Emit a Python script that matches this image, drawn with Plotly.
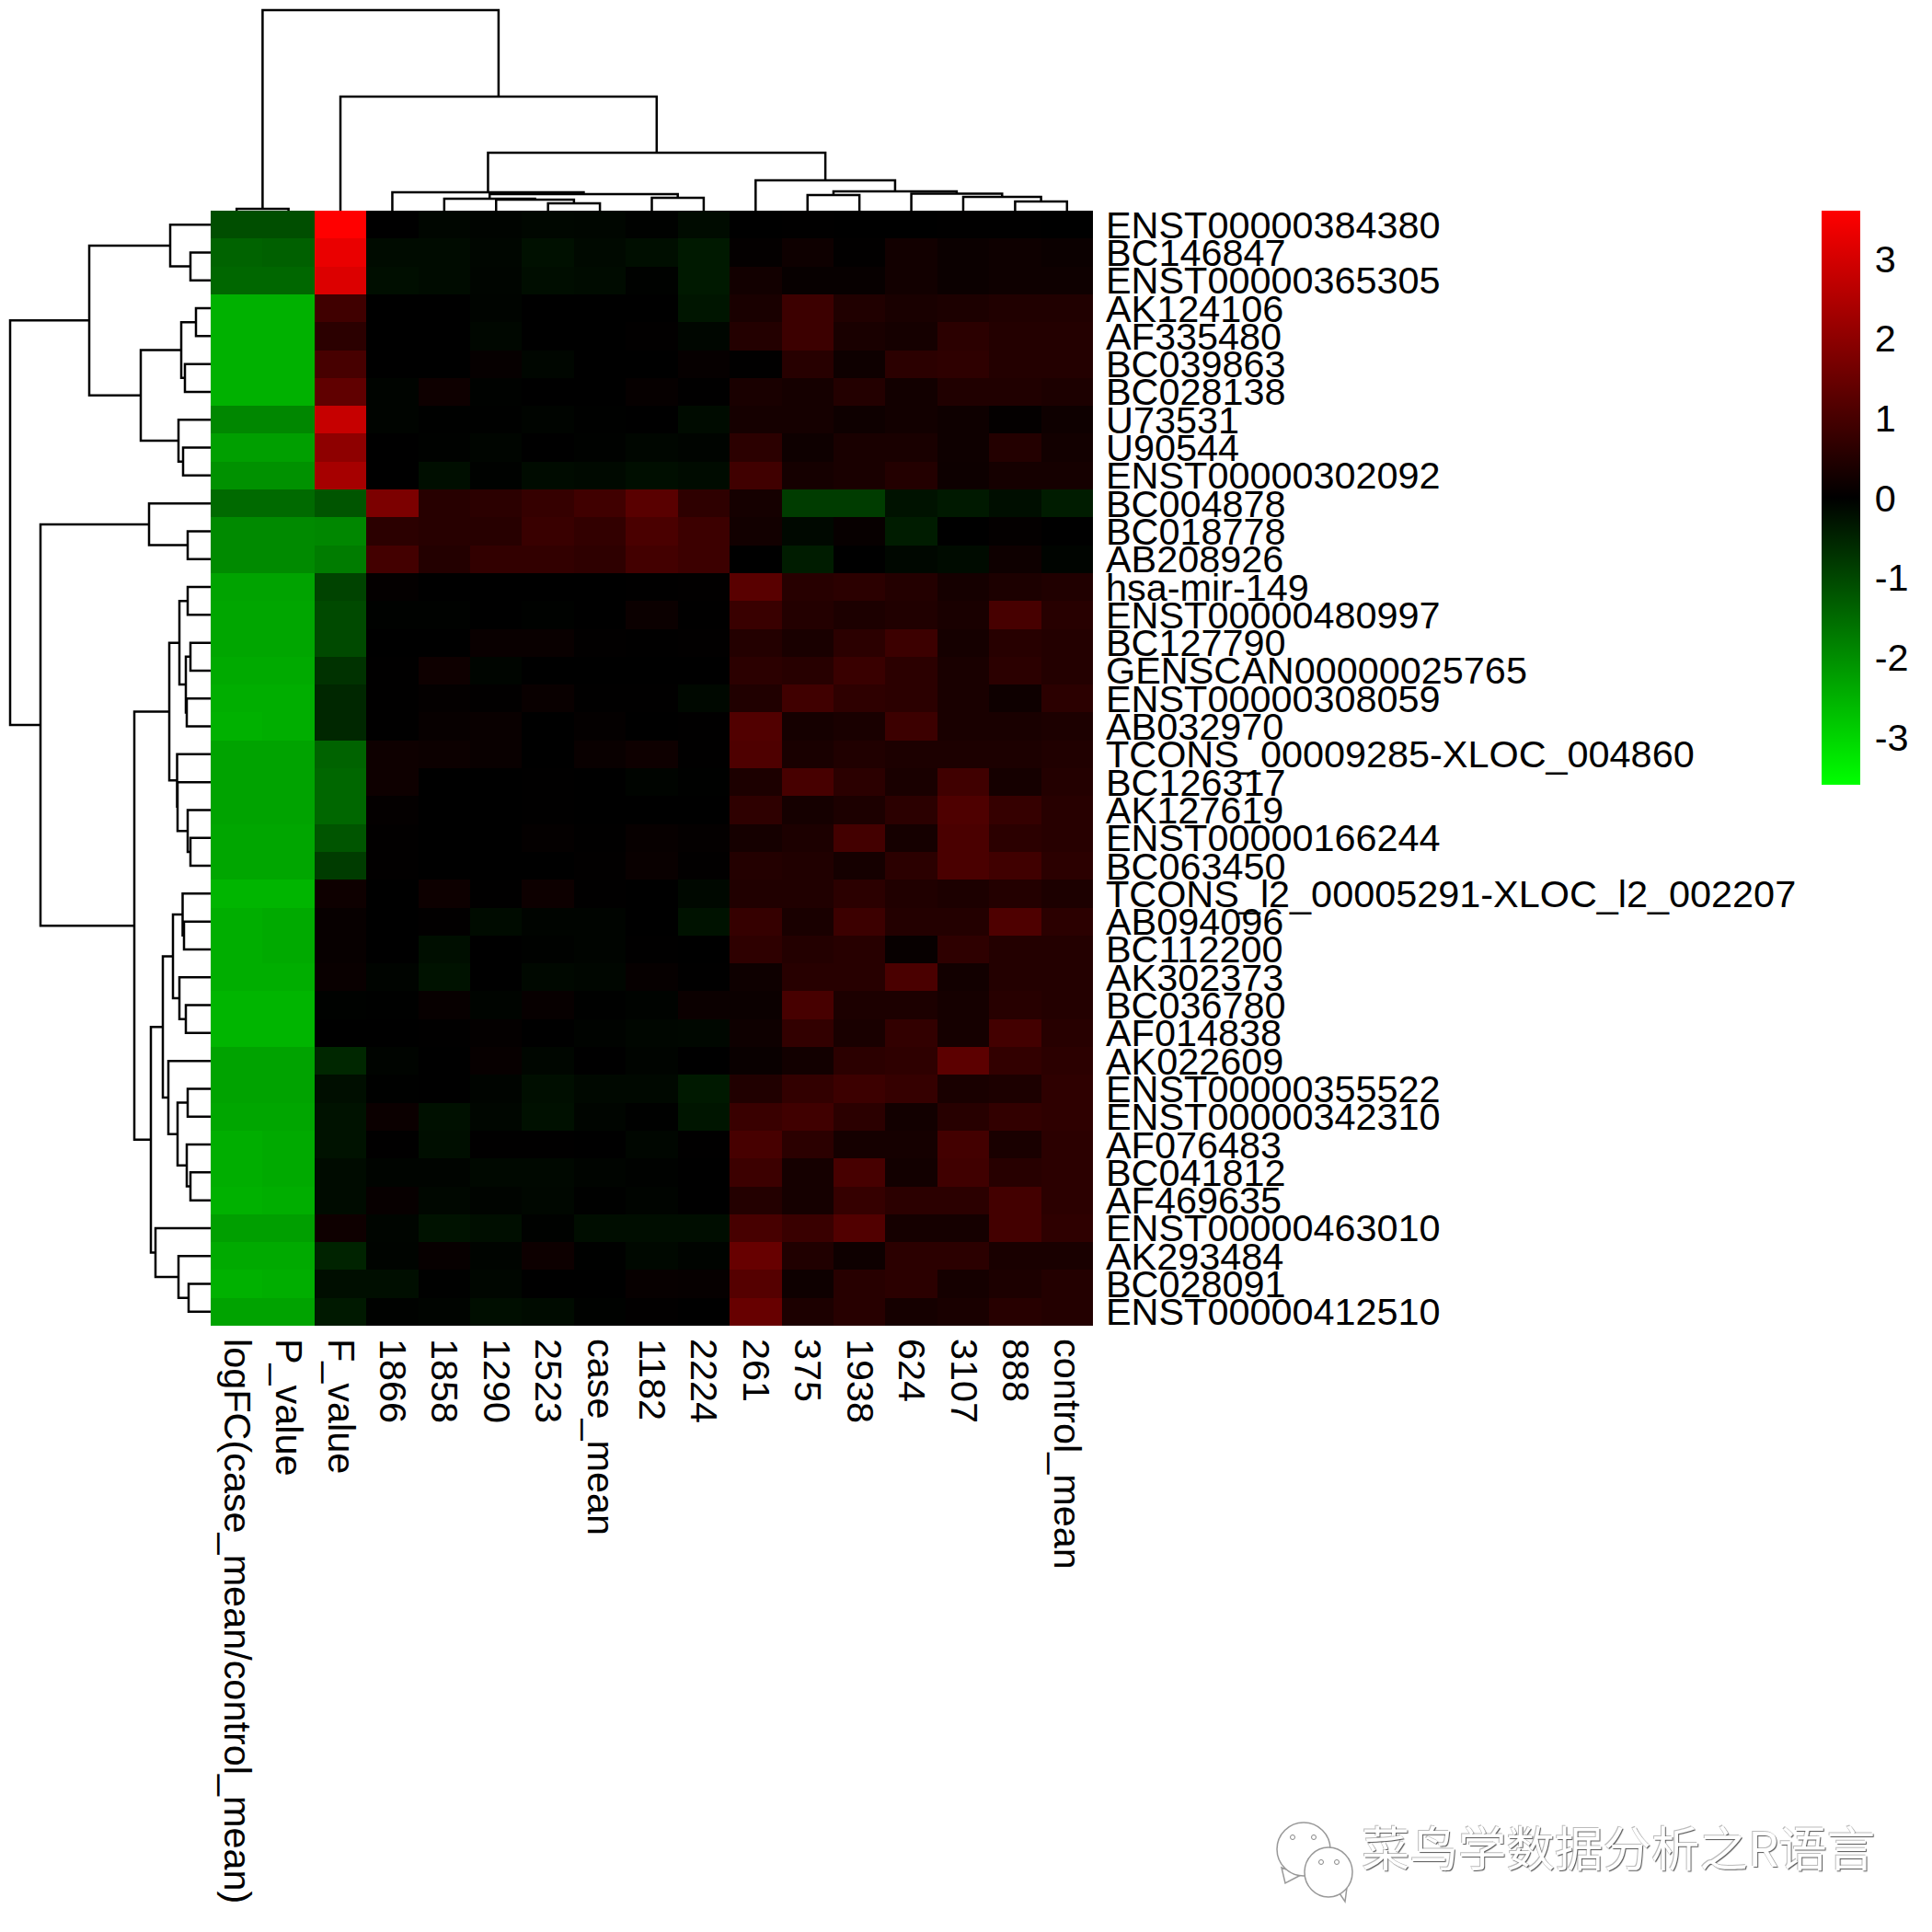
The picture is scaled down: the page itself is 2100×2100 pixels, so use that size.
import plotly.graph_objects as go

col_labels = ["logFC(case_mean/control_mean)", "P_value", "F_value", "1866", "1858", "1290", "2523", "case_mean",
              "1182", "2224", "261", "375", "1938", "624", "3107", "888", "control_mean"]
row_labels = ["ENST00000384380", "BC146847", "ENST00000365305", "AK124106", "AF335480", "BC039863", "BC028138",
              "U73531", "U90544", "ENST00000302092", "BC004878", "BC018778", "AB208926", "hsa-mir-149",
              "ENST00000480997", "BC127790", "GENSCAN00000025765", "ENST00000308059", "AB032970",
              "TCONS_00009285-XLOC_004860", "BC126317", "AK127619", "ENST00000166244", "BC063450",
              "TCONS_l2_00005291-XLOC_l2_002207", "AB094096", "BC112200", "AK302373", "BC036780", "AF014838",
              "AK022609", "ENST00000355522", "ENST00000342310", "AF076483", "BC041812", "AF469635",
              "ENST00000463010", "AK293484", "BC028091", "ENST00000412510"]

r00 = [-1.1, -1.1, 3.6, 0, -0.08, -0.05, -0.1, -0.08, -0.03, -0.15, 0, 0.02, 0, 0, 0.02, 0.02, 0]
r01 = [-1.4, -1.35, 3.3, -0.15, -0.15, -0.08, -0.22, -0.13, -0.2, -0.35, 0.05, 0.2, 0.03, 0.25, 0.15, 0.2, 0.15]
r02 = [-1.45, -1.45, 3.1, -0.2, -0.15, -0.07, -0.18, -0.16, -0.03, -0.35, 0.25, 0.1, 0.1, 0.25, 0.15, 0.2, 0.2]
r03 = [-2.5, -2.5, 0.9, 0, 0, -0.05, 0, 0, 0, -0.3, 0.35, 0.85, 0.45, 0.35, 0.4, 0.45, 0.45]
r04 = [-2.5, -2.5, 0.6, 0, 0, -0.1, 0, 0, 0.03, -0.08, 0.5, 0.85, 0.35, 0.3, 0.6, 0.5, 0.5]
r05 = [-2.5, -2.5, 1.0, 0, 0, 0.08, -0.08, 0, 0, 0.08, 0.02, 0.55, 0.2, 0.6, 0.65, 0.5, 0.5]
r06 = [-2.5, -2.5, 1.35, -0.05, 0.2, -0.03, 0, 0, 0.08, 0.02, 0.35, 0.3, 0.5, 0.25, 0.45, 0.45, 0.4]
r07 = [-1.9, -1.9, 2.8, -0.05, -0.02, -0.02, -0.06, -0.02, 0, -0.15, 0.3, 0.3, 0.2, 0.25, 0.2, 0.05, 0.2]
r08 = [-2.25, -2.25, 2.0, 0, -0.03, -0.07, 0, -0.03, -0.08, -0.05, 0.6, 0.2, 0.35, 0.35, 0.2, 0.5, 0.25]
r09 = [-2.05, -2.05, 2.35, 0, -0.2, -0.03, -0.15, -0.13, -0.2, -0.15, 0.9, 0.3, 0.35, 0.5, 0.18, 0.3, 0.3]
r10 = [-1.5, -1.5, -1.2, 1.75, 0.55, 0.6, 0.75, 0.9, 1.25, 0.65, 0.3, -0.85, -0.85, -0.25, -0.35, -0.2, -0.4]
r11 = [-1.95, -1.95, -1.9, 0.6, 0.55, 0.55, 0.8, 0.7, 1.05, 0.85, 0.25, -0.12, 0.1, -0.4, 0, 0.05, 0]
r12 = [-1.95, -1.95, -1.75, 0.95, 0.5, 0.7, 0.7, 0.65, 0.95, 0.85, 0, -0.4, 0, -0.1, -0.15, 0.2, -0.05]
r13 = [-2.3, -2.3, -0.95, 0.05, 0, 0, 0, 0, 0.02, 0.03, 1.25, 0.55, 0.6, 0.5, 0.3, 0.4, 0.45]
r14 = [-2.35, -2.35, -1.05, -0.03, -0.03, 0, -0.03, 0, 0.15, 0.02, 0.8, 0.5, 0.4, 0.45, 0.35, 1.0, 0.55]
r15 = [-2.35, -2.35, -1.05, 0, 0, 0.12, 0.13, 0.03, 0.02, 0.03, 0.5, 0.35, 0.6, 0.85, 0.3, 0.55, 0.5]
r16 = [-2.4, -2.4, -0.7, 0.02, 0.2, -0.07, 0, 0, 0, 0, 0.6, 0.55, 0.8, 0.6, 0.35, 0.6, 0.5]
r17 = [-2.45, -2.45, -0.55, 0.02, 0.05, 0.03, 0.12, 0.02, 0.02, -0.12, 0.45, 0.9, 0.65, 0.6, 0.35, 0.2, 0.6]
r18 = [-2.5, -2.45, -0.55, 0.02, 0.1, 0.12, 0, 0.06, 0, 0.02, 1.15, 0.3, 0.35, 0.85, 0.35, 0.35, 0.4]
r19 = [-2.3, -2.3, -1.4, 0.2, 0.17, 0.12, 0, 0.12, 0.2, 0.02, 1.1, 0.35, 0.45, 0.4, 0.4, 0.4, 0.45]
r20 = [-2.3, -2.3, -1.45, 0.2, 0, 0, 0.02, 0, -0.05, -0.02, 0.4, 1.0, 0.6, 0.35, 0.9, 0.3, 0.5]
r21 = [-2.3, -2.3, -1.45, 0.05, 0, 0, 0.02, 0, 0, 0, 0.65, 0.3, 0.4, 0.6, 1.1, 0.75, 0.55]
r22 = [-2.35, -2.35, -1.2, 0.03, 0, 0, 0.05, 0.02, 0.1, 0.05, 0.3, 0.4, 0.95, 0.3, 1.05, 0.6, 0.55]
r23 = [-2.35, -2.35, -0.85, 0.03, 0, 0, 0, 0.03, 0.12, 0.03, 0.5, 0.45, 0.3, 0.6, 1.05, 0.9, 0.6]
r24 = [-2.55, -2.55, 0.2, 0, 0.18, 0.02, 0.18, 0.01, 0, -0.12, 0.45, 0.45, 0.6, 0.45, 0.4, 0.5, 0.4]
r25 = [-2.45, -2.4, 0.1, 0, 0.03, -0.15, -0.05, -0.05, 0, -0.25, 0.75, 0.35, 0.85, 0.5, 0.5, 1.1, 0.6]
r26 = [-2.45, -2.4, 0.1, 0, -0.2, 0, -0.03, -0.05, 0.02, 0, 0.65, 0.5, 0.55, 0.1, 0.65, 0.5, 0.5]
r27 = [-2.45, -2.45, 0.12, -0.05, -0.25, 0, -0.12, -0.08, 0.08, 0.02, 0.2, 0.55, 0.55, 1.05, 0.25, 0.5, 0.5]
r28 = [-2.55, -2.55, -0.03, -0.01, 0.1, -0.06, 0.1, -0.02, -0.04, 0.15, 0.15, 1.0, 0.4, 0.4, 0.3, 0.55, 0.5]
r29 = [-2.55, -2.55, 0, 0, 0.01, 0.05, 0, -0.04, -0.08, -0.1, 0.2, 0.7, 0.35, 0.7, 0.3, 0.95, 0.55]
r30 = [-2.3, -2.3, -0.55, -0.05, 0, 0.1, -0.08, 0, -0.05, 0, 0.12, 0.25, 0.6, 0.65, 1.3, 0.7, 0.6]
r31 = [-2.3, -2.3, -0.2, -0.01, 0, -0.06, -0.2, -0.12, -0.12, -0.35, 0.45, 0.7, 0.85, 0.75, 0.35, 0.4, 0.65]
r32 = [-2.35, -2.35, -0.25, 0.15, -0.22, -0.08, -0.22, -0.07, -0.01, -0.3, 0.8, 0.9, 0.6, 0.25, 0.55, 0.7, 0.65]
r33 = [-2.45, -2.4, -0.25, 0.02, -0.2, 0.01, 0.02, 0, -0.08, 0.02, 1.0, 0.6, 0.3, 0.3, 0.95, 0.35, 0.6]
r34 = [-2.45, -2.4, -0.15, -0.06, -0.06, -0.12, -0.12, -0.06, -0.03, 0, 0.85, 0.3, 1.0, 0.25, 0.9, 0.55, 0.6]
r35 = [-2.5, -2.45, -0.15, 0.1, -0.1, -0.05, -0.1, -0.02, -0.05, 0, 0.5, 0.3, 0.75, 0.6, 0.6, 0.95, 0.6]
r36 = [-2.25, -2.25, 0.2, -0.07, -0.25, -0.2, -0.03, -0.18, -0.18, -0.18, 1.0, 0.8, 1.15, 0.3, 0.3, 0.95, 0.65]
r37 = [-2.4, -2.4, -0.5, -0.06, 0.1, -0.06, 0.18, -0.01, -0.12, -0.05, 1.45, 0.45, 0.2, 0.6, 0.6, 0.35, 0.35]
r38 = [-2.5, -2.45, -0.2, -0.2, -0.02, -0.08, 0, 0, 0.1, 0.08, 1.2, 0.2, 0.55, 0.6, 0.3, 0.4, 0.5]
r39 = [-2.3, -2.3, -0.35, -0.03, -0.05, -0.2, -0.15, -0.03, 0.03, 0, 1.45, 0.4, 0.55, 0.3, 0.35, 0.55, 0.5]
cell_values = [r00, r01, r02, r03, r04, r05, r06, r07, r08, r09, r10, r11, r12, r13, r14, r15, r16, r17, r18, r19,
               r20, r21, r22, r23, r24, r25, r26, r27, r28, r29, r30, r31, r32, r33, r34, r35, r36, r37, r38, r39]

# Clustering trees: (merge height, left branch, right branch); integers are leaf positions.
row_tree = (218,
    (132,
        (44, 0, (22, 1, 2)),
        (76,
            (32, (16, 3, 4), (28, 5, 6)),
            (35, 7, (30, 8, 9)))),
    (185,
        (67, 10, (25, 11, 12)),
        (83,
            (45,
                (34, (25, 13, 14), (27, (22, 15, 16), (26, 17, 18))),
                (36.5, 19, (36, 20, (25, 21, (22, 22, 23))))),
            (65,
                (52,
                    (41,
                        (30.5, 24, (29, 25, 26)),
                        (34, 27, (27, 28, 29))),
                    (46, 30, (36, (25, 31, 32), (26, 33, (22, 34, 35))))),
                (60, 36, (35, 37, (24, 38, 39)))))))

col_tree = (218,
    (2, 0, 1),
    (124,
        2,
        (63,
            (20, 3, (18, (13, 4, (12, 5, (8, 6, 7))), (14, 8, 9))),
            (33, 10, (21, (17, 11, 12), (18.5, 13, (15, 14, (10, 15, 16))))))))

color_ticks = [-3, -2, -1, 0, 1, 2, 3]
color_limit = 3.6


def tree_segments(node, pos, hgt):
    if isinstance(node, int):
        return float(node), 0.0
    h, left, right = node
    p1, h1 = tree_segments(left, pos, hgt)
    p2, h2 = tree_segments(right, pos, hgt)
    pos += [p1, p1, p2, p2, None]
    hgt += [h1, h, h, h2, None]
    return (p1 + p2) / 2, h


S = 2100.0
PAGE = 8  # the page's own margin shifts the figure by this many pixels


def px(v):
    return (v - PAGE) / S


def py(v):
    return 1 - (v - PAGE) / S


tree_extent = 229 - PAGE
L, R = px(229), px(1188)
TOP, BOT = py(229), py(1441)
FONT = "Liberation Sans, Arial, Helvetica, sans-serif"
LABEL_SIZE = 41.4
fig = go.Figure()

fig.add_trace(go.Heatmap(
    z=cell_values, x=col_labels, y=row_labels, zmin=-color_limit, zmax=color_limit,
    colorscale=[[0, "#00FF00"], [0.5, "#000000"], [1, "#FF0000"]], xgap=0, ygap=0, hoverongaps=False,
    colorbar=dict(x=px(1980), xanchor="left", xpad=0, y=TOP, yanchor="top", ypad=0, len=624, lenmode="pixels",
                  thickness=42, thicknessmode="pixels", outlinewidth=0, ticks="outside", ticklen=8,
                  tickcolor="rgba(0,0,0,0)", tickvals=color_ticks, ticktext=[str(t) for t in color_ticks],
                  tickfont=dict(family=FONT, size=LABEL_SIZE, color="black")),
))

rp, rh = [], []
tree_segments(row_tree, rp, rh)
fig.add_trace(go.Scatter(x=rh, y=rp, mode="lines", line=dict(color="black", width=2.5), xaxis="x2", yaxis="y2",
                         showlegend=False, hoverinfo="skip"))
cp, ch = [], []
tree_segments(col_tree, cp, ch)
fig.add_trace(go.Scatter(x=cp, y=ch, mode="lines", line=dict(color="black", width=2.5), xaxis="x3", yaxis="y3",
                         showlegend=False, hoverinfo="skip"))

# WeChat-style watermark icon
shapes = []
GREY = "#999999"
for pts in [[(1393, 2030), (1397, 2047), (1414, 2038)], [(1452, 2052), (1462, 2067), (1465, 2044)]]:
    path = "M " + " L ".join(f"{px(x)} {py(y)}" for x, y in pts) + " Z"
    shapes.append(dict(type="path", xref="paper", yref="paper", path=path, fillcolor="white",
                       line=dict(color=GREY, width=1.5)))
for x0, y0, x1, y1 in [(1388, 1981, 1446, 2039), (1418, 2008, 1470, 2062)]:
    shapes.append(dict(type="circle", xref="paper", yref="paper", x0=px(x0), x1=px(x1), y0=py(y0), y1=py(y1),
                       fillcolor="white", line=dict(color=GREY, width=1.5)))
for ex, ey, r in [(1405, 1997, 2.5), (1428, 1997, 2.5), (1436, 2024, 2.5), (1453, 2024, 2.5)]:
    shapes.append(dict(type="circle", xref="paper", yref="paper", x0=px(ex - r), x1=px(ex + r),
                       y0=py(ey - r), y1=py(ey + r), fillcolor="white",
                       line=dict(color="#888888", width=1)))

fig.update_layout(
    width=2100, height=2100, autosize=False, margin=dict(l=0, r=0, t=0, b=0),
    paper_bgcolor="white", plot_bgcolor="white", shapes=shapes,
    xaxis=dict(domain=[L, R], range=[-0.5, 16.5], tickmode="array", tickvals=col_labels, ticktext=col_labels,
               tickangle=90, side="bottom", ticks="", showgrid=False, zeroline=False, showline=False,
               automargin=False, ticklabelstandoff=13, tickfont=dict(family=FONT, size=LABEL_SIZE, color="black"),
               anchor="y", type="category"),
    yaxis=dict(domain=[BOT, TOP], range=[39.5, -0.5], tickmode="array", tickvals=row_labels, ticktext=row_labels,
               side="right", ticks="", showgrid=False, zeroline=False, showline=False, automargin=False,
               ticklabelstandoff=13, tickfont=dict(family=FONT, size=LABEL_SIZE, color="black"), anchor="x",
               type="category"),
    xaxis2=dict(domain=[0, L], range=[tree_extent, 0], visible=False, anchor="y2"),
    yaxis2=dict(domain=[BOT, TOP], range=[39.5, -0.5], visible=False, anchor="x2"),
    xaxis3=dict(domain=[L, R], range=[-0.5, 16.5], visible=False, anchor="y3"),
    yaxis3=dict(domain=[TOP, 1], range=[0, tree_extent], visible=False, anchor="x3"),
    annotations=[dict(text="菜鸟学数据分析之R语言", xref="paper", yref="paper", x=px(1478), y=py(2006),
                      xanchor="left", yanchor="middle", showarrow=False,
                      font=dict(family="Noto Sans CJK SC", size=52.5, color="white",
                                shadow="1px 1px 1px #555555, -1px -1px 0px #bbbbbb"))],
)
fig.write_html("out.html")
